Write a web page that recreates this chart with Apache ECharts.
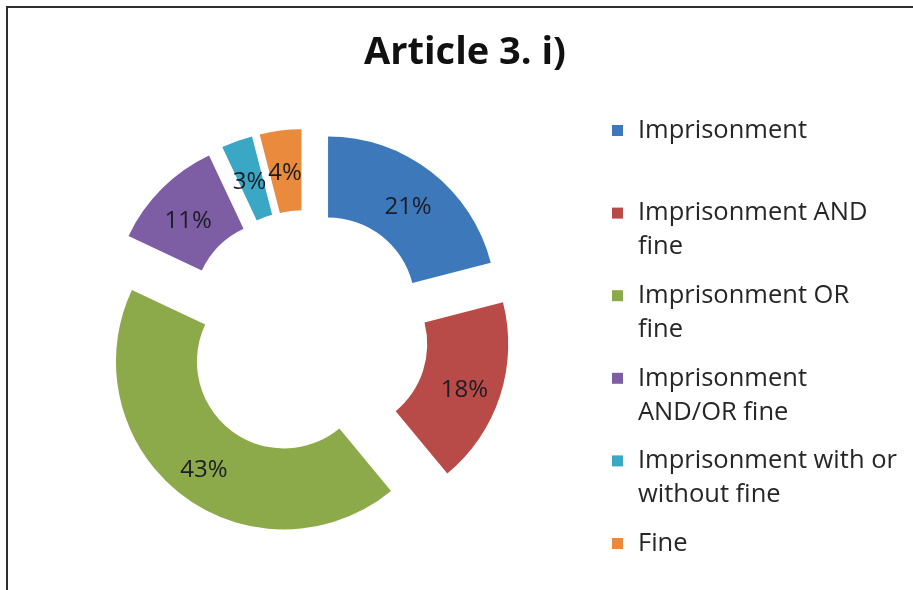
<!DOCTYPE html>
<html>
<head>
<meta charset="utf-8">
<script src="https://cdn.jsdelivr.net/npm/echarts@6/dist/echarts.min.js"></script>
<style>
  html, body { margin: 0; padding: 0; background: #ffffff; }
  #chart { width: 913px; height: 590px; }
</style>
</head>
<body>
<div id="chart"></div>
<script>
// Penalty types and their shares (percent)
const categories = [
  'Imprisonment',
  'Imprisonment AND fine',
  'Imprisonment OR fine',
  'Imprisonment AND/OR fine',
  'Imprisonment with or without fine',
  'Fine'
];
const shares = [21, 18, 43, 11, 3, 4];
const colors = ['#3d78ba', '#b84a47', '#8caa4a', '#7d5da3', '#3aa7c4', '#e98a3c'];

// Legend text wrapped into lines; a blank leading line keeps the
// first text line level with the colour swatch.
const legendLines = {
  'Imprisonment': ' \nImprisonment\n ',
  'Imprisonment AND fine': ' \nImprisonment AND\nfine',
  'Imprisonment OR fine': ' \nImprisonment OR\nfine',
  'Imprisonment AND/OR fine': ' \nImprisonment\nAND/OR fine',
  'Imprisonment with or without fine': ' \nImprisonment with or\nwithout fine',
  'Fine': ' \nFine\n '
};

const FONT = '"Open Sans", sans-serif';
const LINE = 34;          // legend line height
const PITCH = 82.6;       // distance between legend entries

const chart = echarts.init(document.getElementById('chart'), null, { renderer: 'canvas' });

chart.setOption({
  animation: false,
  backgroundColor: '#ffffff',
  title: {
    text: 'Article 3. i)',
    left: 460,
    top: 29,
    textAlign: 'center',
    textStyle: { fontFamily: FONT, fontSize: 38, fontWeight: 'bold', color: '#111111' }
  },
  legend: {
    orient: 'vertical',
    left: 612,
    top: 79.5,
    height: 540,
    padding: 0,
    itemWidth: 11,
    itemHeight: 11,
    itemGap: PITCH - 3 * LINE,
    icon: 'rect',
    selectedMode: false,
    formatter: name => legendLines[name],
    textStyle: {
      fontFamily: FONT,
      fontSize: 25.5,
      color: '#262626',
      lineHeight: LINE,
      padding: [0, 0, 0, 10]
    },
    data: categories
  },
  graphic: [
    {
      type: 'polyline',
      shape: { points: [[7, 590], [7, 7], [913, 7]] },
      style: { stroke: '#2e2e2e', lineWidth: 2, fill: null },
      silent: true
    }
  ],
  series: [
    {
      type: 'pie',
      center: [306, 333],
      radius: [87, 168],
      startAngle: 90,
      clockwise: true,
      selectedMode: 'multiple',
      selectedOffset: 36,
      avoidLabelOverlap: false,
      emphasis: { disabled: true },
      select: { itemStyle: { borderWidth: 0 } },
      labelLayout: { hideOverlap: false },
      label: {
        show: true,
        position: 'inside',
        // a thin spacer line sits the percentage slightly below the ring's mid radius
        formatter: p => '{gap| }\n{pct|' + p.percent + '%}',
        rich: {
          gap: { fontSize: 1, lineHeight: 11 },
          pct: { fontFamily: FONT, fontSize: 24, lineHeight: 30, color: '#1c1c24' }
        }
      },
      labelLine: { show: false },
      itemStyle: { borderWidth: 0 },
      data: categories.map((name, i) => ({
        name: name,
        value: shares[i],
        selected: true,
        itemStyle: { color: colors[i] }
      }))
    }
  ]
});
</script>
</body>
</html>
